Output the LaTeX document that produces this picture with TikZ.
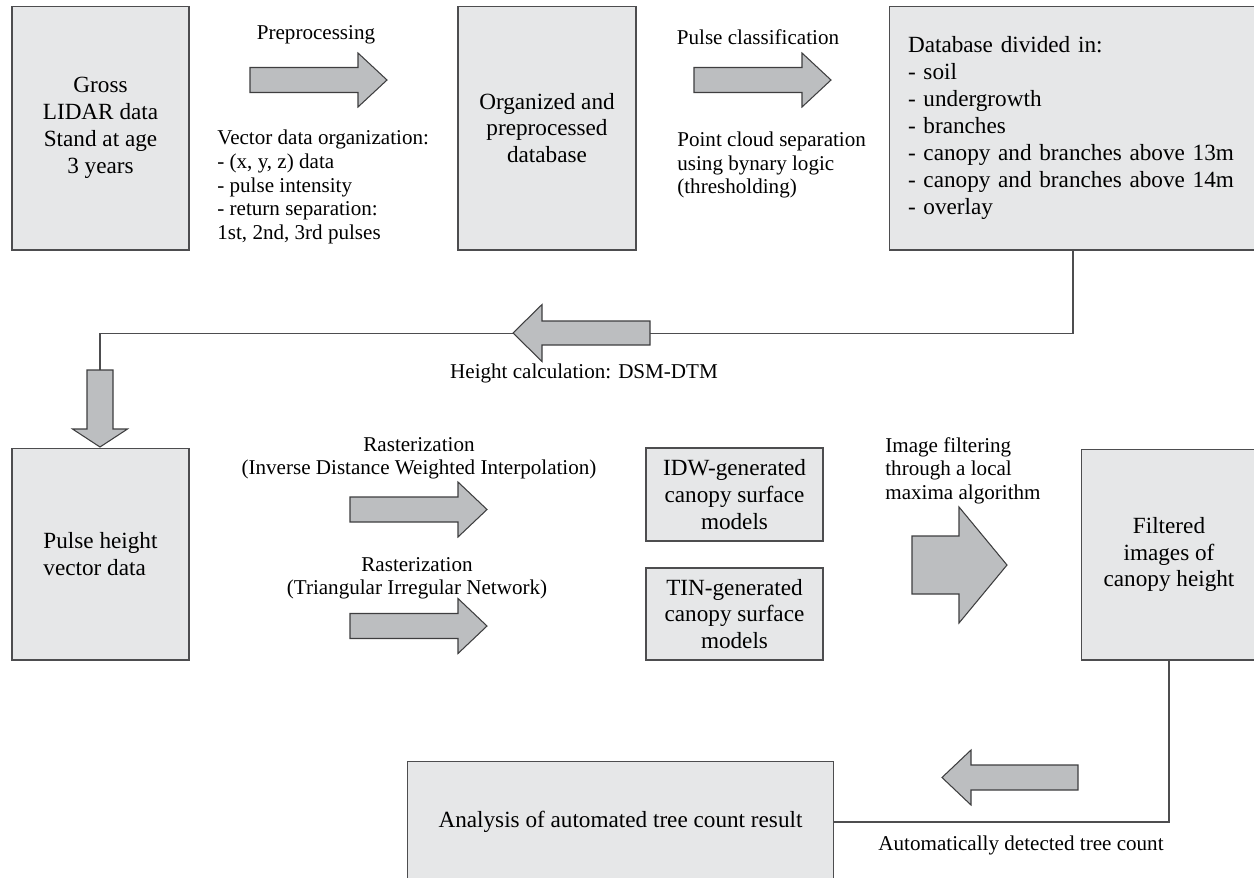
\documentclass[tikz,border=0pt]{standalone}
\usepackage{fontspec}
\setmainfont{Liberation Serif}
\definecolor{boxgray}{HTML}{E6E7E8}
\definecolor{arrgray}{HTML}{BCBEC0}
\definecolor{edge}{HTML}{4D4D4F}

\begin{document}
\begin{tikzpicture}[x=0.02cm,y=-0.02cm,
    stage/.style={draw=edge,fill=boxgray,line width=.6pt,inner sep=0pt,align=center,
                  font=\fontsize{13.2}{15.3}\selectfont},
    lbl/.style={inner sep=0pt,font=\fontsize{12}{13.4}\selectfont},
    fatarrow/.style={draw=edge!80!black,fill=arrgray,line width=.6pt},
    link/.style={draw=edge,line width=.6pt}]
  \useasboundingbox (0,0) rectangle (1254,877);
  \clip (0,0) rectangle (1254,877);

  % first row
  \node[stage,minimum width=3.54cm,minimum height=4.88cm] (gross) at (100.5,128)
       {Gross\\LIDAR data\\Stand at age\\3 years};
  \node[stage,minimum width=3.56cm,minimum height=4.88cm] (org) at (547,128)
       {Organized and\\preprocessed\\database};
  \node[stage,minimum height=4.88cm,text width=6.6cm,inner xsep=0.38cm,align=left] (db) at (1073,128)
       {Database divided in:\\- soil\\- undergrowth\\- branches\\- canopy and branches above 13m\\- canopy and branches above 14m\\- overlay};

  % second row
  \node[stage,minimum width=3.54cm,minimum height=4.24cm,align=left] (pulse) at (100.5,554)
       {Pulse height\\vector data};
  \node[stage,minimum width=3.54cm,minimum height=1.86cm] (idw) at (734.5,494.5)
       {IDW-generated\\canopy surface\\models};
  \node[stage,minimum width=3.54cm,minimum height=1.84cm] (tin) at (734.5,614)
       {TIN-generated\\canopy surface\\models};
  \node[stage,minimum width=3.52cm,minimum height=4.22cm] (filt) at (1169,554.5)
       {Filtered\\images of\\canopy height};

  % last row
  \node[stage,minimum width=8.54cm,minimum height=2.44cm] (anal) at (620.5,822)
       {Analysis of automated tree count result};

  % labels
  \node[lbl] (pre) at (316,35) {Preprocessing};
  \node[lbl,anchor=west,align=left] (vec) at (217,187)
       {Vector data organization:\\- (x, y, z) data\\- pulse intensity\\- return separation:\\1st, 2nd, 3rd pulses};
  \node[lbl] (cls) at (758,37) {Pulse classification};
  \node[lbl,anchor=west,align=left] (sep) at (677,165)
       {Point cloud separation\\using bynary logic\\(thresholding)};
  \node[lbl] (hcalc) at (584,373) {Height calculation: DSM-DTM};
  \node[lbl,align=center] (rast1) at (419,458.5)
       {Rasterization\\(Inverse Distance Weighted Interpolation)};
  \node[lbl,align=center] (rast2) at (417,578.5)
       {Rasterization\\(Triangular Irregular Network)};
  \node[lbl,anchor=west,align=left] (filtlbl) at (885,470.5)
       {Image filtering\\through a local\\maxima algorithm};
  \node[lbl] (count) at (1021,845) {Automatically detected tree count};

  % connectors
  \coordinate (dtop) at (100,370);
  \draw[link] (db.south) --++(0,83) -| (dtop);
  \draw[link] (filt.south) |- (anal.east);

  % block arrows
  \draw[fatarrow] (250,67.5) --++(108,0) --++(0,-14.5) --++(29,27) --++(-29,27) --++(0,-14.5) --++(-108,0) --cycle;
  \draw[fatarrow] (694,67.5) --++(108,0) --++(0,-14.5) --++(29,27) --++(-29,27) --++(0,-14.5) --++(-108,0) --cycle;
  \draw[fatarrow] (650,321) --++(-108,0) --++(0,-16.5) --++(-29,28.5) --++(29,28.5) --++(0,-16.5) --++(108,0) --cycle;
  \draw[fatarrow] (dtop) ++(-13,0) --++(26,0) --++(0,59) --++(14.5,0) --++(-27.5,18) --++(-27.5,-18) --++(14.5,0) --cycle;
  \draw[fatarrow] (350,497) --++(108,0) --++(0,-15) --++(29,27.5) --++(-29,27.5) --++(0,-15) --++(-108,0) --cycle;
  \draw[fatarrow] (350,613.5) --++(108,0) --++(0,-15) --++(29,27.5) --++(-29,27.5) --++(0,-15) --++(-108,0) --cycle;
  \draw[fatarrow] (912,536) --++(47,0) --++(0,-29) --++(48,58) --++(-48,58) --++(0,-29) --++(-47,0) --cycle;
  \draw[fatarrow] (1078,765) --++(-107,0) --++(0,-15) --++(-29,27.5) --++(29,27.5) --++(0,-15) --++(107,0) --cycle;
\end{tikzpicture}
\end{document}
